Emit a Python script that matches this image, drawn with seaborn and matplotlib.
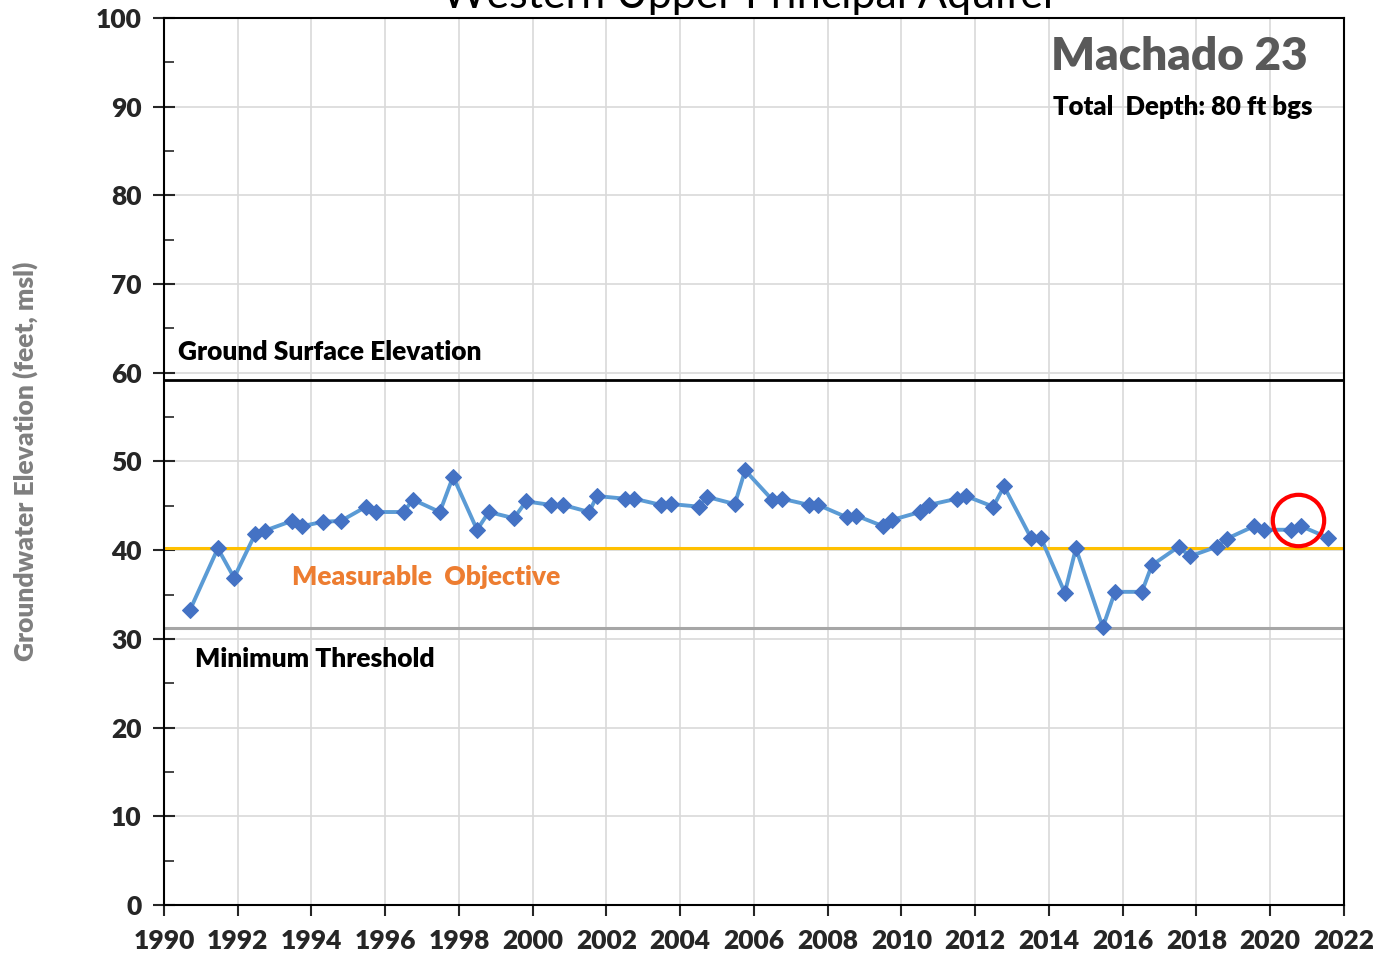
import pandas as pd
import matplotlib.pyplot as plt
import seaborn as sns

# Groundwater elevation readings (decimal year, feet msl)
years = [1990.71, 1991.46, 1991.90, 1992.47, 1992.74, 1993.47, 1993.74, 1994.31,
         1994.80, 1995.48, 1995.75, 1996.50, 1996.75, 1997.48, 1997.84, 1998.49,
         1998.81, 1999.49, 1999.82, 2000.49, 2000.82, 2001.53, 2001.74, 2002.50,
         2002.75, 2003.48, 2003.75, 2004.51, 2004.73, 2005.48, 2005.76, 2006.49,
         2006.76, 2007.49, 2007.74, 2008.52, 2008.77, 2009.50, 2009.74, 2010.50,
         2010.75, 2011.50, 2011.75, 2012.49, 2012.78, 2013.51, 2013.78, 2014.43,
         2014.73, 2015.46, 2015.79, 2016.52, 2016.79, 2017.52, 2017.82, 2018.56,
         2018.83, 2019.56, 2019.83, 2020.57, 2020.84, 2021.57]
elevation = [33.3, 40.2, 36.9, 41.8, 42.2, 43.3, 42.7, 43.2,
             43.3, 44.9, 44.3, 44.3, 45.7, 44.3, 48.3, 42.3,
             44.3, 43.6, 45.5, 45.1, 45.1, 44.3, 46.1, 45.8,
             45.8, 45.1, 45.2, 44.9, 46.0, 45.2, 49.0, 45.7,
             45.8, 45.1, 45.1, 43.7, 43.9, 42.7, 43.4, 44.3,
             45.1, 45.8, 46.1, 44.9, 47.2, 41.4, 41.4, 35.2,
             40.2, 31.3, 35.3, 35.3, 38.3, 40.4, 39.3, 40.4,
             41.3, 42.7, 42.3, 42.3, 42.7, 41.4]

ground_surface = 59.2
measurable_objective = 40.25
minimum_threshold = 31.2
highlight = (2020.75, 43.4)

x_ticks = list(range(1990, 2023, 2))
y_ticks = list(range(0, 101, 10))

df = pd.DataFrame({'Year': years, 'Elevation': elevation})

sns.set_style('white')
plt.rcParams['font.family'] = ['Lato', 'DejaVu Sans']
plt.rcParams['font.weight'] = 'heavy'

fig = plt.figure(figsize=(13.77, 9.55), dpi=100)
ax = fig.add_axes([0.1191, 0.0524, 0.8569, 0.9288])

# grid
for x in x_ticks:
    ax.axvline(x, color='#d9d9d9', lw=1.2, zorder=0)
for y in y_ticks:
    ax.axhline(y, color='#d9d9d9', lw=1.2, zorder=0)

# reference levels
ax.axhline(ground_surface, color='black', lw=2.0, zorder=2)
ax.axhline(measurable_objective, color='#FFC000', lw=2.2, zorder=2)
ax.axhline(minimum_threshold, color='#A6A6A6', lw=2.2, zorder=2)

sns.lineplot(data=df, x='Year', y='Elevation', ax=ax, sort=False,
             color='#5B9BD5', linewidth=2.8, marker='D', markersize=8,
             markerfacecolor='#4472C4', markeredgecolor='#4472C4', zorder=3)

# red circle around recent readings
ax.plot([highlight[0]], [highlight[1]], marker='o', markersize=37,
        markerfacecolor='none', markeredgecolor='#FF0000', markeredgewidth=3.0,
        linestyle='none', zorder=4)

ax.set_xlim(1990, 2022)
ax.set_ylim(0, 100)
ax.set_xticks(x_ticks)
ax.set_yticks(y_ticks)
ax.set_yticks(list(range(5, 100, 10)), minor=True)
ax.tick_params(axis='x', which='major', direction='out', length=8, width=1.5,
               labelsize=19, pad=9)
ax.tick_params(axis='y', which='major', direction='inout', length=16, width=1.5,
               labelsize=19, pad=8, left=True)
ax.tick_params(axis='y', which='minor', direction='in', length=7, width=1.2, left=True)
ax.tick_params(axis='x', bottom=True)
for s in ax.spines.values():
    s.set_linewidth(1.5)
    s.set_color('black')

ax.set_xlabel('')
ax.set_ylabel('Groundwater Elevation (feet, msl)', fontsize=19, color='#7f7f7f',
              fontweight='heavy', labelpad=42)

# labels
ax.text(1990.38, 62.3, 'Ground Surface Elevation', fontsize=19, fontweight='heavy',
        color='black', va='center', ha='left')
ax.text(1993.47, 37.0, 'Measurable  Objective', fontsize=19, fontweight='heavy',
        color='#ED7D31', va='center', ha='left')
ax.text(1990.84, 27.7, 'Minimum Threshold', fontsize=19, fontweight='heavy',
        color='black', va='center', ha='left')
ax.text(0.9695, 0.957, 'Machado 23', transform=ax.transAxes, fontsize=33,
        fontweight='heavy', color='#595959', ha='right', va='center')
ax.text(0.973, 0.90, 'Total  Depth: 80 ft bgs', transform=ax.transAxes, fontsize=18.5,
        fontweight='heavy', color='black', ha='right', va='center')

fig.text(0.545, 1 - 8 / 955, 'Western Upper Principal Aquifer', fontsize=31,
         fontweight='normal', color='black', ha='center', va='baseline')

fig.savefig('out.png', dpi=100)
